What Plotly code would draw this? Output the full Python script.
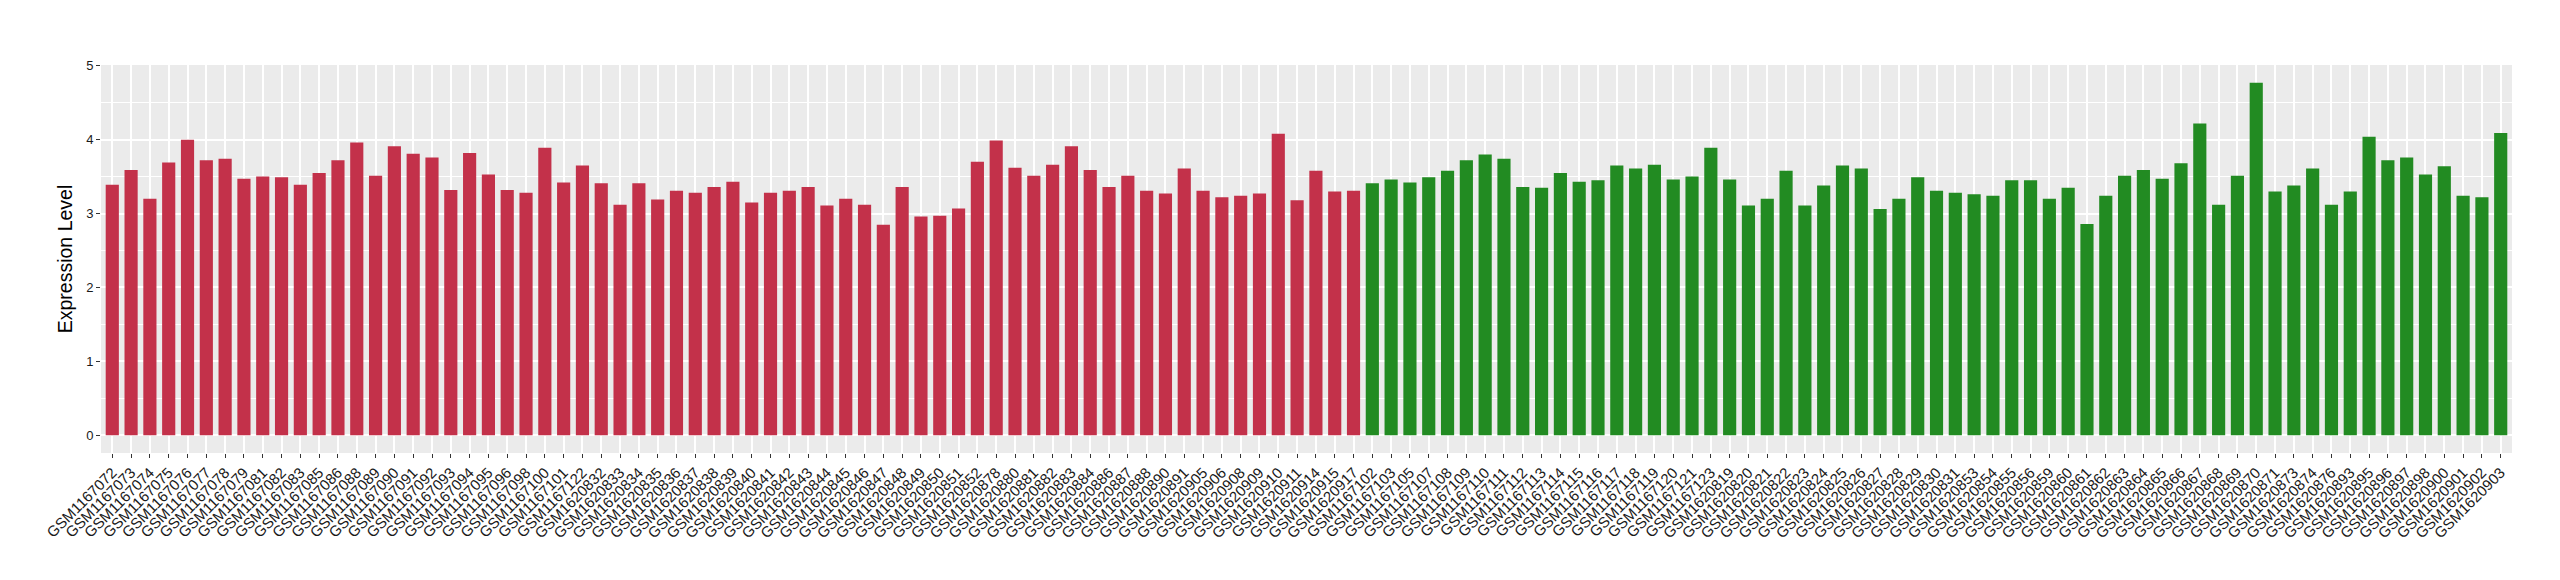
import plotly.graph_objects as go

red_samples = [
    "GSM1167072", "GSM1167073", "GSM1167074", "GSM1167075", "GSM1167076", "GSM1167077",
    "GSM1167078", "GSM1167079", "GSM1167081", "GSM1167082", "GSM1167083", "GSM1167085",
    "GSM1167086", "GSM1167088", "GSM1167089", "GSM1167090", "GSM1167091", "GSM1167092",
    "GSM1167093", "GSM1167094", "GSM1167095", "GSM1167096", "GSM1167098", "GSM1167100",
    "GSM1167101", "GSM1167122", "GSM1620832", "GSM1620833", "GSM1620834", "GSM1620835",
    "GSM1620836", "GSM1620837", "GSM1620838", "GSM1620839", "GSM1620840", "GSM1620841",
    "GSM1620842", "GSM1620843", "GSM1620844", "GSM1620845", "GSM1620846", "GSM1620847",
    "GSM1620848", "GSM1620849", "GSM1620850", "GSM1620851", "GSM1620852", "GSM1620878",
    "GSM1620880", "GSM1620881", "GSM1620882", "GSM1620883", "GSM1620884", "GSM1620886",
    "GSM1620887", "GSM1620888", "GSM1620890", "GSM1620891", "GSM1620905", "GSM1620906",
    "GSM1620908", "GSM1620909", "GSM1620910", "GSM1620911", "GSM1620914", "GSM1620915",
    "GSM1620917",
]
red_values = [
    3.39, 3.59, 3.20, 3.69, 4.00, 3.72, 3.74, 3.47, 3.50, 3.49, 3.39, 3.55,
    3.72, 3.96, 3.51, 3.91, 3.81, 3.76, 3.32, 3.82, 3.53, 3.32, 3.28, 3.89,
    3.42, 3.65, 3.41, 3.12, 3.41, 3.19, 3.31, 3.28, 3.36, 3.43, 3.15, 3.28,
    3.31, 3.36, 3.11, 3.20, 3.12, 2.85, 3.36, 2.96, 2.97, 3.07, 3.70, 3.99,
    3.62, 3.51, 3.66, 3.91, 3.59, 3.36, 3.51, 3.31, 3.27, 3.61, 3.31, 3.22,
    3.24, 3.27, 4.08, 3.18, 3.58, 3.30, 3.31,
]

green_samples = [
    "GSM1167102", "GSM1167103", "GSM1167105", "GSM1167107", "GSM1167108", "GSM1167109",
    "GSM1167110", "GSM1167111", "GSM1167112", "GSM1167113", "GSM1167114", "GSM1167115",
    "GSM1167116", "GSM1167117", "GSM1167118", "GSM1167119", "GSM1167120", "GSM1167121",
    "GSM1167123", "GSM1620819", "GSM1620820", "GSM1620821", "GSM1620822", "GSM1620823",
    "GSM1620824", "GSM1620825", "GSM1620826", "GSM1620827", "GSM1620828", "GSM1620829",
    "GSM1620830", "GSM1620831", "GSM1620853", "GSM1620854", "GSM1620855", "GSM1620856",
    "GSM1620859", "GSM1620860", "GSM1620861", "GSM1620862", "GSM1620863", "GSM1620864",
    "GSM1620865", "GSM1620866", "GSM1620867", "GSM1620868", "GSM1620869", "GSM1620870",
    "GSM1620871", "GSM1620873", "GSM1620874", "GSM1620876", "GSM1620893", "GSM1620895",
    "GSM1620896", "GSM1620897", "GSM1620898", "GSM1620900", "GSM1620901", "GSM1620902",
    "GSM1620903",
]
green_values = [
    3.41, 3.46, 3.42, 3.49, 3.58, 3.72, 3.80, 3.74, 3.36, 3.35, 3.55, 3.43,
    3.45, 3.65, 3.61, 3.66, 3.46, 3.50, 3.89, 3.46, 3.11, 3.20, 3.58, 3.11,
    3.38, 3.65, 3.61, 3.06, 3.20, 3.49, 3.31, 3.28, 3.26, 3.24, 3.45, 3.45,
    3.20, 3.35, 2.86, 3.24, 3.51, 3.59, 3.47, 3.68, 4.22, 3.12, 3.51, 4.77,
    3.30, 3.38, 3.61, 3.12, 3.30, 4.04, 3.72, 3.76, 3.53, 3.64, 3.24, 3.22,
    4.09,
]

y_ticks = [0, 1, 2, 3, 4, 5]
all_samples = red_samples + green_samples

fig = go.Figure()
fig.add_trace(go.Bar(x=red_samples, y=red_values, marker=dict(color="#C3314A", line=dict(width=0)),
                     width=0.7, showlegend=False))
fig.add_trace(go.Bar(x=green_samples, y=green_values, marker=dict(color="#228B22", line=dict(width=0)),
                     width=0.7, showlegend=False))

fig.update_layout(
    width=2560, height=580,
    barmode="overlay",
    margin=dict(l=93, r=56, t=57, b=135, pad=0),
    paper_bgcolor="white",
    plot_bgcolor="#EBEBEB",
    font=dict(family="Liberation Sans, Arial, sans-serif", color="#1a1a1a"),
    showlegend=False,
)
fig.update_xaxes(
    type="category",
    categoryorder="array", categoryarray=all_samples,
    tickmode="array", tickvals=all_samples, ticktext=all_samples,
    tickangle=-45,
    tickfont=dict(size=15, color="#1a1a1a"),
    range=[-0.6, len(all_samples) - 0.4],
    showgrid=True, gridcolor="white", gridwidth=1.5,
    ticks="outside", ticklen=4, tickcolor="#333333", tickwidth=1,
    showline=False, zeroline=False,
)
fig.update_yaxes(
    range=[-0.24, 5.01],
    tickmode="array", tickvals=y_ticks,
    tickfont=dict(size=13, color="#1a1a1a"),
    showgrid=True, gridcolor="white", gridwidth=1.5,
    minor=dict(dtick=0.5, tick0=0, showgrid=True, gridcolor="white", gridwidth=0.7, ticks=""),
    ticks="outside", ticklen=4, tickcolor="#333333", tickwidth=1,
    zeroline=False, showline=False,
    title=dict(text="Expression Level", font=dict(size=19.5, color="#000000"), standoff=8),
)

fig.write_html("out.html")
